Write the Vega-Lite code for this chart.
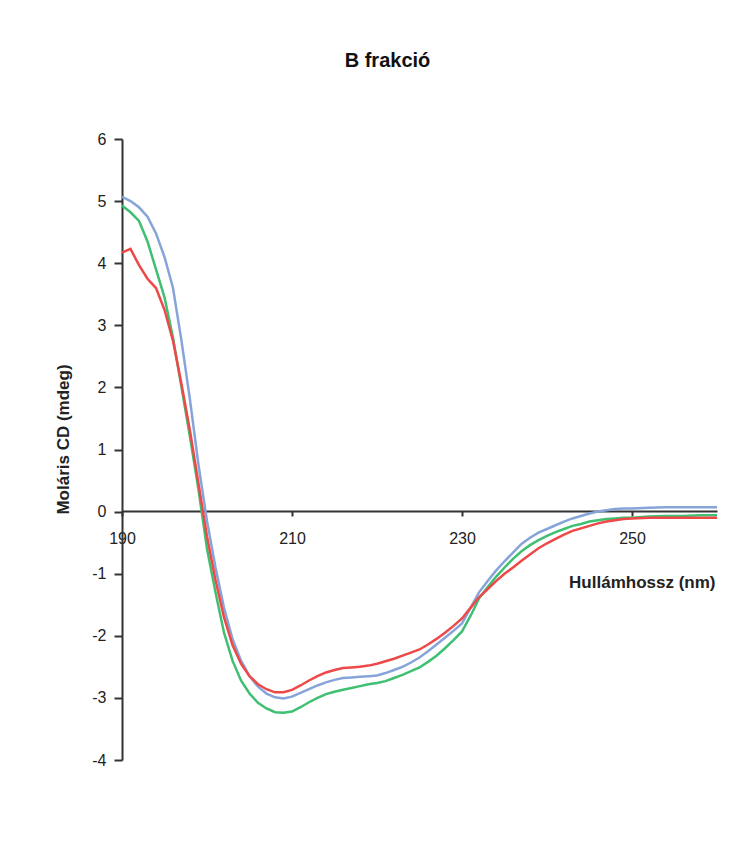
{
  "$schema": "https://vega.github.io/schema/vega-lite/v6.json",
  "width": 595,
  "height": 621,
  "autosize": {"type": "none"},
  "padding": {"left": 122, "top": 139, "right": 34, "bottom": 85},
  "background": "white",
  "config": {"view": {"stroke": null}, "font": "Liberation Sans"},
  "title": {
    "text": "B frakció",
    "font": "Liberation Sans",
    "fontSize": 20,
    "fontWeight": "bold",
    "color": "#111111",
    "anchor": "middle",
    "dx": -32,
    "offset": 60
  },
  "data": {
    "values": [
      {"wl":190,"s":"s1","cd":5.07},{"wl":191,"s":"s1","cd":5.0},{"wl":192,"s":"s1","cd":4.9},{"wl":193,"s":"s1","cd":4.75},{"wl":194,"s":"s1","cd":4.48},{"wl":195,"s":"s1","cd":4.1},{"wl":196,"s":"s1","cd":3.6},{"wl":197,"s":"s1","cd":2.75},{"wl":198,"s":"s1","cd":1.8},{"wl":199,"s":"s1","cd":0.75},
      {"wl":200,"s":"s1","cd":-0.15},{"wl":201,"s":"s1","cd":-0.9},{"wl":202,"s":"s1","cd":-1.55},{"wl":203,"s":"s1","cd":-2.05},{"wl":204,"s":"s1","cd":-2.4},{"wl":205,"s":"s1","cd":-2.65},{"wl":206,"s":"s1","cd":-2.82},{"wl":207,"s":"s1","cd":-2.93},{"wl":208,"s":"s1","cd":-2.99},{"wl":209,"s":"s1","cd":-3.01},
      {"wl":210,"s":"s1","cd":-2.98},{"wl":211,"s":"s1","cd":-2.92},{"wl":212,"s":"s1","cd":-2.86},{"wl":213,"s":"s1","cd":-2.8},{"wl":214,"s":"s1","cd":-2.75},{"wl":215,"s":"s1","cd":-2.71},{"wl":216,"s":"s1","cd":-2.68},{"wl":217,"s":"s1","cd":-2.67},{"wl":218,"s":"s1","cd":-2.66},{"wl":219,"s":"s1","cd":-2.65},
      {"wl":220,"s":"s1","cd":-2.64},{"wl":221,"s":"s1","cd":-2.6},{"wl":222,"s":"s1","cd":-2.55},{"wl":223,"s":"s1","cd":-2.5},{"wl":224,"s":"s1","cd":-2.43},{"wl":225,"s":"s1","cd":-2.35},{"wl":226,"s":"s1","cd":-2.25},{"wl":227,"s":"s1","cd":-2.14},{"wl":228,"s":"s1","cd":-2.03},{"wl":229,"s":"s1","cd":-1.92},
      {"wl":230,"s":"s1","cd":-1.8},{"wl":231,"s":"s1","cd":-1.55},{"wl":232,"s":"s1","cd":-1.3},{"wl":233,"s":"s1","cd":-1.12},{"wl":234,"s":"s1","cd":-0.95},{"wl":235,"s":"s1","cd":-0.8},{"wl":236,"s":"s1","cd":-0.66},{"wl":237,"s":"s1","cd":-0.52},{"wl":238,"s":"s1","cd":-0.42},{"wl":239,"s":"s1","cd":-0.34},
      {"wl":240,"s":"s1","cd":-0.28},{"wl":241,"s":"s1","cd":-0.22},{"wl":242,"s":"s1","cd":-0.16},{"wl":243,"s":"s1","cd":-0.11},{"wl":244,"s":"s1","cd":-0.07},{"wl":245,"s":"s1","cd":-0.03},{"wl":246,"s":"s1","cd":0.0},{"wl":247,"s":"s1","cd":0.02},{"wl":248,"s":"s1","cd":0.04},{"wl":249,"s":"s1","cd":0.05},
      {"wl":250,"s":"s1","cd":0.05},{"wl":252,"s":"s1","cd":0.06},{"wl":254,"s":"s1","cd":0.07},{"wl":256,"s":"s1","cd":0.07},{"wl":258,"s":"s1","cd":0.07},{"wl":260,"s":"s1","cd":0.07},

      {"wl":190,"s":"s2","cd":4.93},{"wl":191,"s":"s2","cd":4.82},{"wl":192,"s":"s2","cd":4.68},{"wl":193,"s":"s2","cd":4.35},{"wl":194,"s":"s2","cd":3.9},{"wl":195,"s":"s2","cd":3.45},{"wl":196,"s":"s2","cd":2.8},{"wl":197,"s":"s2","cd":2.0},{"wl":198,"s":"s2","cd":1.2},{"wl":199,"s":"s2","cd":0.35},
      {"wl":200,"s":"s2","cd":-0.6},{"wl":201,"s":"s2","cd":-1.3},{"wl":202,"s":"s2","cd":-1.95},{"wl":203,"s":"s2","cd":-2.4},{"wl":204,"s":"s2","cd":-2.72},{"wl":205,"s":"s2","cd":-2.93},{"wl":206,"s":"s2","cd":-3.08},{"wl":207,"s":"s2","cd":-3.17},{"wl":208,"s":"s2","cd":-3.23},{"wl":209,"s":"s2","cd":-3.24},
      {"wl":210,"s":"s2","cd":-3.22},{"wl":211,"s":"s2","cd":-3.15},{"wl":212,"s":"s2","cd":-3.07},{"wl":213,"s":"s2","cd":-3.0},{"wl":214,"s":"s2","cd":-2.94},{"wl":215,"s":"s2","cd":-2.9},{"wl":216,"s":"s2","cd":-2.87},{"wl":217,"s":"s2","cd":-2.84},{"wl":218,"s":"s2","cd":-2.81},{"wl":219,"s":"s2","cd":-2.78},
      {"wl":220,"s":"s2","cd":-2.76},{"wl":221,"s":"s2","cd":-2.73},{"wl":222,"s":"s2","cd":-2.68},{"wl":223,"s":"s2","cd":-2.63},{"wl":224,"s":"s2","cd":-2.57},{"wl":225,"s":"s2","cd":-2.51},{"wl":226,"s":"s2","cd":-2.42},{"wl":227,"s":"s2","cd":-2.32},{"wl":228,"s":"s2","cd":-2.2},{"wl":229,"s":"s2","cd":-2.07},
      {"wl":230,"s":"s2","cd":-1.93},{"wl":231,"s":"s2","cd":-1.68},{"wl":232,"s":"s2","cd":-1.4},{"wl":233,"s":"s2","cd":-1.22},{"wl":234,"s":"s2","cd":-1.05},{"wl":235,"s":"s2","cd":-0.9},{"wl":236,"s":"s2","cd":-0.76},{"wl":237,"s":"s2","cd":-0.64},{"wl":238,"s":"s2","cd":-0.54},{"wl":239,"s":"s2","cd":-0.46},
      {"wl":240,"s":"s2","cd":-0.39},{"wl":241,"s":"s2","cd":-0.33},{"wl":242,"s":"s2","cd":-0.28},{"wl":243,"s":"s2","cd":-0.23},{"wl":244,"s":"s2","cd":-0.2},{"wl":245,"s":"s2","cd":-0.16},{"wl":246,"s":"s2","cd":-0.14},{"wl":247,"s":"s2","cd":-0.12},{"wl":248,"s":"s2","cd":-0.11},{"wl":249,"s":"s2","cd":-0.1},
      {"wl":250,"s":"s2","cd":-0.1},{"wl":252,"s":"s2","cd":-0.08},{"wl":254,"s":"s2","cd":-0.07},{"wl":256,"s":"s2","cd":-0.07},{"wl":258,"s":"s2","cd":-0.06},{"wl":260,"s":"s2","cd":-0.06},

      {"wl":190,"s":"s3","cd":4.17},{"wl":191,"s":"s3","cd":4.23},{"wl":192,"s":"s3","cd":3.97},{"wl":193,"s":"s3","cd":3.75},{"wl":194,"s":"s3","cd":3.6},{"wl":195,"s":"s3","cd":3.25},{"wl":196,"s":"s3","cd":2.75},{"wl":197,"s":"s3","cd":2.05},{"wl":198,"s":"s3","cd":1.3},{"wl":199,"s":"s3","cd":0.45},
      {"wl":200,"s":"s3","cd":-0.4},{"wl":201,"s":"s3","cd":-1.1},{"wl":202,"s":"s3","cd":-1.7},{"wl":203,"s":"s3","cd":-2.15},{"wl":204,"s":"s3","cd":-2.45},{"wl":205,"s":"s3","cd":-2.65},{"wl":206,"s":"s3","cd":-2.78},{"wl":207,"s":"s3","cd":-2.86},{"wl":208,"s":"s3","cd":-2.91},{"wl":209,"s":"s3","cd":-2.91},
      {"wl":210,"s":"s3","cd":-2.87},{"wl":211,"s":"s3","cd":-2.8},{"wl":212,"s":"s3","cd":-2.72},{"wl":213,"s":"s3","cd":-2.65},{"wl":214,"s":"s3","cd":-2.59},{"wl":215,"s":"s3","cd":-2.55},{"wl":216,"s":"s3","cd":-2.52},{"wl":217,"s":"s3","cd":-2.51},{"wl":218,"s":"s3","cd":-2.5},{"wl":219,"s":"s3","cd":-2.48},
      {"wl":220,"s":"s3","cd":-2.45},{"wl":221,"s":"s3","cd":-2.41},{"wl":222,"s":"s3","cd":-2.37},{"wl":223,"s":"s3","cd":-2.32},{"wl":224,"s":"s3","cd":-2.27},{"wl":225,"s":"s3","cd":-2.22},{"wl":226,"s":"s3","cd":-2.14},{"wl":227,"s":"s3","cd":-2.05},{"wl":228,"s":"s3","cd":-1.95},{"wl":229,"s":"s3","cd":-1.84},
      {"wl":230,"s":"s3","cd":-1.72},{"wl":231,"s":"s3","cd":-1.55},{"wl":232,"s":"s3","cd":-1.38},{"wl":233,"s":"s3","cd":-1.25},{"wl":234,"s":"s3","cd":-1.12},{"wl":235,"s":"s3","cd":-1.0},{"wl":236,"s":"s3","cd":-0.9},{"wl":237,"s":"s3","cd":-0.79},{"wl":238,"s":"s3","cd":-0.69},{"wl":239,"s":"s3","cd":-0.59},
      {"wl":240,"s":"s3","cd":-0.51},{"wl":241,"s":"s3","cd":-0.44},{"wl":242,"s":"s3","cd":-0.37},{"wl":243,"s":"s3","cd":-0.31},{"wl":244,"s":"s3","cd":-0.27},{"wl":245,"s":"s3","cd":-0.23},{"wl":246,"s":"s3","cd":-0.19},{"wl":247,"s":"s3","cd":-0.16},{"wl":248,"s":"s3","cd":-0.14},{"wl":249,"s":"s3","cd":-0.12},
      {"wl":250,"s":"s3","cd":-0.11},{"wl":252,"s":"s3","cd":-0.1},{"wl":254,"s":"s3","cd":-0.1},{"wl":256,"s":"s3","cd":-0.1},{"wl":258,"s":"s3","cd":-0.1},{"wl":260,"s":"s3","cd":-0.1}
    ]
  },
  "mark": {"type": "line", "strokeWidth": 2.5, "clip": false},
  "encoding": {
    "x": {
      "field": "wl",
      "type": "quantitative",
      "scale": {"domain": [190, 260], "nice": false, "zero": false},
      "axis": {
        "values": [190, 210, 230, 250],
        "offset": -249,
        "grid": false,
        "labelFlush": false,
        "domainColor": "#333333",
        "domainWidth": 2,
        "tickColor": "#333333",
        "tickWidth": 2,
        "tickSize": 5,
        "labelFont": "Liberation Sans",
        "labelFontSize": 16,
        "labelColor": "#222222",
        "labelPadding": 14,
        "title": "Hullámhossz (nm)",
        "titleFont": "Liberation Sans",
        "titleFontSize": 17,
        "titleFontWeight": "bold",
        "titleColor": "#222222",
        "titleAnchor": "end",
        "titleAlign": "right",
        "titleBaseline": "alphabetic",
        "titleX": 593,
        "titleY": 76
      }
    },
    "y": {
      "field": "cd",
      "type": "quantitative",
      "scale": {"domain": [-4, 6], "nice": false, "zero": false},
      "axis": {
        "values": [-4, -3, -2, -1, 0, 1, 2, 3, 4, 5, 6],
        "grid": false,
        "labelExpr": "replace(datum.label, '−', '-')",
        "domainColor": "#333333",
        "domainWidth": 2,
        "tickColor": "#333333",
        "tickWidth": 2,
        "tickSize": 8,
        "labelFont": "Liberation Sans",
        "labelFontSize": 16,
        "labelColor": "#222222",
        "labelPadding": 8,
        "title": "Moláris CD (mdeg)",
        "titleFont": "Liberation Sans",
        "titleFontSize": 17,
        "titleFontWeight": "bold",
        "titleColor": "#222222",
        "titleAngle": 270,
        "titleAlign": "center",
        "titleBaseline": "middle",
        "titleX": -59,
        "titleY": 300
      }
    },
    "color": {
      "field": "s",
      "type": "nominal",
      "scale": {"domain": ["s1", "s2", "s3"], "range": ["#86a4da", "#3fbf72", "#ee4848"]},
      "legend": null
    }
  }
}
